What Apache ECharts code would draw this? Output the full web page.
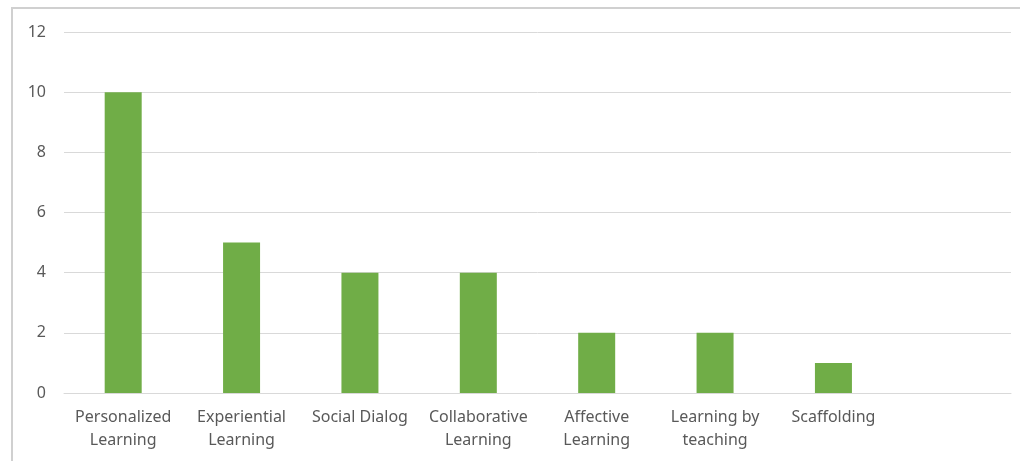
<!DOCTYPE html>
<html><head><meta charset="utf-8">
<script src="https://cdn.jsdelivr.net/npm/echarts@6/dist/echarts.min.js"></script>
<style>html,body{margin:0;padding:0;background:#fff}#c{width:1020px;height:461px}</style>
</head><body><div id="c"></div>
<script>
const categories = ['Personalized\nLearning','Experiential\nLearning','Social Dialog','Collaborative\nLearning','Affective\nLearning','Learning by\nteaching','Scaffolding',''];
const values = [10,5,4,4,2,2,1,null];
const yTicks = {min:0,max:12,interval:2};

const chart = echarts.init(document.getElementById('c'));
chart.setOption({
  animation:false,
  backgroundColor:'#fff',
  graphic:[{type:'rect',shape:{x:12,y:8,width:1030,height:470},style:{fill:'none',stroke:'#d0d0d0',lineWidth:2},z:-1}],
  grid:{left:64,right:9,top:32,bottom:68},
  xAxis:{type:'category',data:categories,
    axisLine:{lineStyle:{color:'#d9d9d9',width:1}},axisTick:{show:false},
    axisLabel:{color:'#595959',fontFamily:'Noto Sans',fontSize:16,lineHeight:23,margin:13,interval:0}},
  yAxis:{type:'value',min:yTicks.min,max:yTicks.max,interval:yTicks.interval,
    axisLine:{show:false},axisTick:{show:false},
    splitLine:{lineStyle:{color:'#d9d9d9',width:1}},
    axisLabel:{color:'#595959',fontFamily:'Noto Sans',fontSize:16,margin:18}},
  series:[{type:'bar',data:values,barWidth:37,itemStyle:{color:'#70AD47'}}]
});
</script></body></html>
